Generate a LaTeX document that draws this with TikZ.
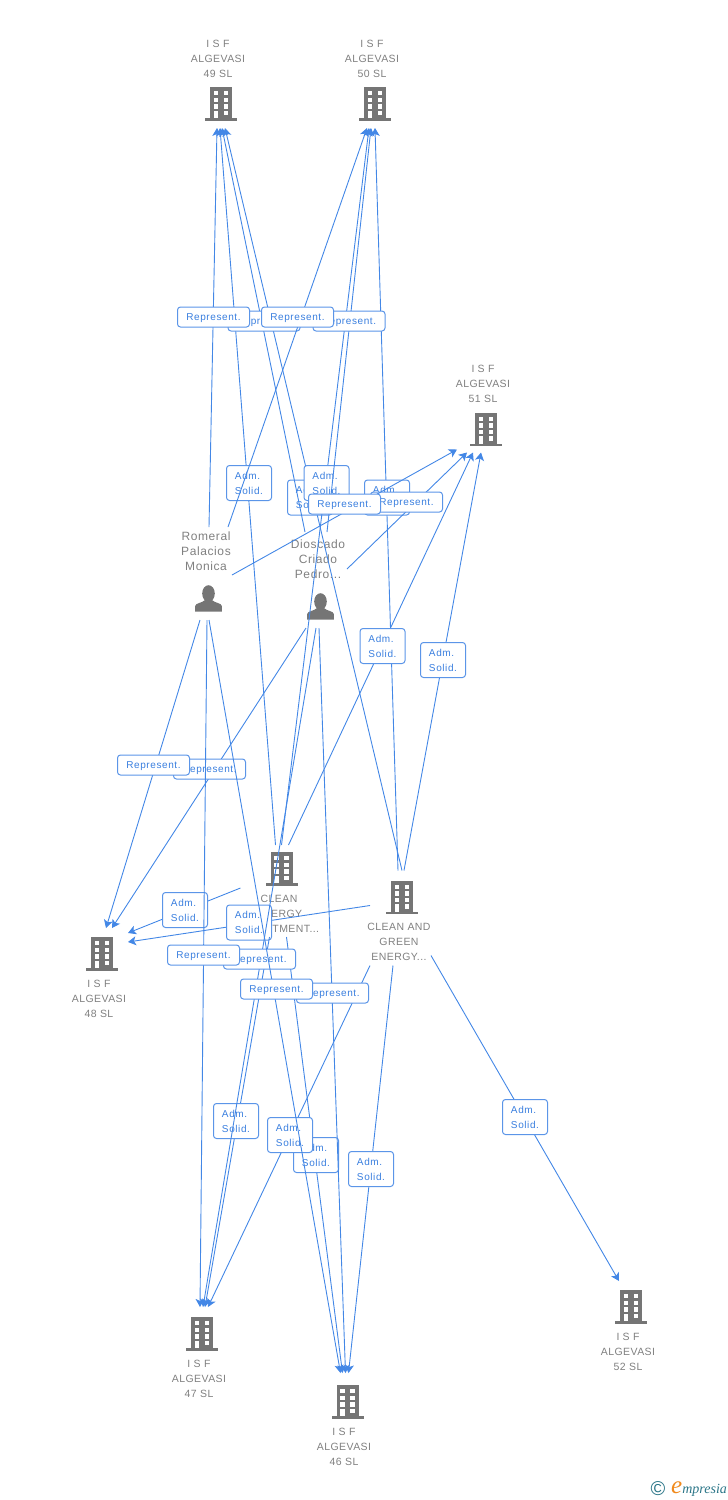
\documentclass[tikz,border=0pt]{standalone}
\usepackage{fontspec}
\usepackage{tikz}
\usetikzlibrary{calc, arrows.meta}
\setmainfont{Liberation Sans}
\newfontfamily\companyfont[LetterSpace=4]{Liberation Sans}
\newfontfamily\personfont[LetterSpace=5]{Liberation Sans}
\newfontfamily\boxfont[LetterSpace=6]{Liberation Sans}
\newfontfamily\logofont{Liberation Serif}
\definecolor{linkblue}{HTML}{4387E6}
\definecolor{boxblue}{HTML}{5B95E8}
\definecolor{boxtext}{HTML}{3A7FDF}
\definecolor{icongray}{HTML}{757575}
\definecolor{textgray}{HTML}{808080}
\definecolor{logoteal}{HTML}{2A7587}
\definecolor{logoorange}{HTML}{F08A1D}
\tikzset{
  icon/.style={inner sep=0pt, minimum size=0pt},
  company/.style={align=center, text=textgray, inner sep=0pt, font=\companyfont\fontsize{10.5}{15}\selectfont},
  person/.style={align=center, text=textgray, inner sep=0pt, font=\personfont\fontsize{12}{15}\selectfont},
  link/.style={draw=linkblue, line width=0.9pt, -{Stealth[length=8pt, width=9pt, inset=2pt]}},
  repbox/.style={draw=boxblue, line width=1pt, fill=white, rounded corners=3pt, text=boxtext, inner sep=0pt,
    text height=7.2pt, text depth=0pt, minimum width=72pt, minimum height=20pt, font=\boxfont\fontsize{10}{15}\selectfont},
  admbox/.style={draw=boxblue, line width=1pt, fill=white, rounded corners=3pt, text=boxtext, inner sep=0pt, align=left,
    minimum width=45pt, minimum height=35pt, font=\boxfont\fontsize{10}{15}\selectfont},
  building/.pic={
    \fill [icongray] (-11, -16.7) rectangle (11, 14.3);
    \fill [icongray] (-16, 14.3) rectangle (16, 16.5);
    \fill [white] (-7.3, -13) rectangle (-2.7, -8.7);
    \fill [white] (2.7, -13) rectangle (7.3, -8.7);
    \fill [white] (-7.3, -6.4) rectangle (-2.7, -2);
    \fill [white] (2.7, -6.4) rectangle (7.3, -2);
    \fill [white] (-7.3, 0.3) rectangle (-2.7, 4.6);
    \fill [white] (2.7, 0.3) rectangle (7.3, 4.6);
    \fill [white] (-7.3, 6.6) rectangle (-2.7, 14.3);
    \fill [white] (2.7, 6.6) rectangle (7.3, 11);
  },
  personicon/.pic={
    \fill [icongray] (0, -4.5) ellipse (6.3 and 8.3);
    \fill [icongray] (-13.3, 13.7) -- (-13.3, 8) .. controls (-13.3, 5) and (-6, 5) .. (-3.5, 2) -- (3.5, 2)
      .. controls (6, 5) and (13.3, 5) .. (13.3, 8) -- (13.3, 13.7) -- cycle;
  }
}
\begin{document}
\begin{tikzpicture}[x=1pt, y=-1pt]
\useasboundingbox (0, 0) rectangle (728, 1500);

\node [icon] (isf49) at (221, 104) {};
\node [icon] (isf50) at (375, 104) {};
\node [icon] (isf51) at (486, 429.5) {};
\node [icon] (isf48) at (102, 954) {};
\node [icon] (isf47) at (202, 1334) {};
\node [icon] (isf46) at (347.5, 1402) {};
\node [icon] (isf52) at (631, 1307) {};
\node [icon] (cleaninv) at (281.5, 869) {};
\node [icon] (cleangreen) at (402, 897.5) {};
\node [icon] (romeral) at (208.5, 598) {};
\node [icon] (dioscado) at (320.5, 606) {};

\pic at (isf49) {building};
\pic at (isf50) {building};
\pic at (isf51) {building};
\pic at (isf48) {building};
\pic at (isf47) {building};
\pic at (isf46) {building};
\pic at (isf52) {building};
\pic at (cleaninv) {building};
\pic at (cleangreen) {building};
\pic at (romeral) {personicon};
\pic at (dioscado) {personicon};

\node [company] (isf49text) at (218, 59) {I S F\\ALGEVASI\\49 SL};
\node [company] (isf50text) at (372, 59) {I S F\\ALGEVASI\\50 SL};
\node [company] (isf51text) at (483, 384) {I S F\\ALGEVASI\\51 SL};
\node [company] (isf48text) at (99, 999) {I S F\\ALGEVASI\\48 SL};
\node [company] (isf47text) at (199, 1379) {I S F\\ALGEVASI\\47 SL};
\node [company] (isf46text) at (344, 1447) {I S F\\ALGEVASI\\46 SL};
\node [company] (isf52text) at (628, 1352) {I S F\\ALGEVASI\\52 SL};
\node [company] (cleaninvtext) at (279, 914) {CLEAN\\ENERGY\\INVESTMENT...};
\node [company] (cleangreentext) at (399, 942) {CLEAN AND\\GREEN\\ENERGY...};
\node [person] (romeraltext) at (206, 551) {Romeral\\Palacios\\Monica};
\node [person] (dioscadotext) at (318, 559) {Dioscado\\Criado\\Pedro...};

\draw [link] ($(cleangreen)+(0, -27)$) -- ($(isf49)+(4, 24)$);
\node [admbox] (admG49) at (310, 497.5) {Adm.\\Solid.};
\draw [link] ($(cleangreen)+(-4, -27)$) -- ($(isf50)+(0, 24)$);
\node [admbox] (admG50) at (387, 497.5) {Adm.\\Solid.};
\draw [link] ($(cleangreen)+(2, -27)$) -- ($(isf51)+(-5, 23)$);
\node [admbox] (admG51) at (443, 660) {Adm.\\Solid.};
\draw [link] ($(cleangreen)+(-32, 8)$) -- ($(isf48)+(26, -12)$);
\node [admbox] (admG48) at (249, 922.5) {Adm.\\Solid.};
\draw [link] ($(cleaninv)+(5, 68)$) -- ($(isf46)+(-5, -29)$);
\node [admbox] (admI46) at (316, 1155) {Adm.\\Solid.};
\draw [link] ($(cleangreen)+(-32, 68)$) -- ($(isf47)+(6, -27)$);
\node [admbox] (admG47) at (290, 1135) {Adm.\\Solid.};
\draw [link] ($(cleangreen)+(-9, 68)$) -- ($(isf46)+(1, -29)$);
\node [admbox] (admG46) at (371, 1169) {Adm.\\Solid.};
\draw [link] ($(cleangreen)+(29, 58)$) -- ($(isf52)+(-12, -26)$);
\node [admbox] (admG52) at (525, 1117) {Adm.\\Solid.};

\draw [link] ($(cleaninv)+(-6, -24)$) -- ($(isf49)+(-1, 24)$);
\node [admbox] (admI49) at (249, 483) {Adm.\\Solid.};
\draw [link] ($(cleaninv)+(0, -24)$) -- ($(isf50)+(-6, 24)$);
\node [admbox] (admI50) at (326.5, 483) {Adm.\\Solid.};
\draw [link] ($(cleaninv)+(7, -24)$) -- ($(isf51)+(-13, 23)$);
\node [admbox] (admI51) at (382.5, 646) {Adm.\\Solid.};
\draw [link] ($(cleaninv)+(-41, 19)$) -- ($(isf48)+(26, -21)$);
\node [admbox] (admI48) at (185, 910) {Adm.\\Solid.};
\draw [link] ($(cleaninv)+(-12, 68)$) -- ($(isf47)+(3, -27)$);
\node [admbox] (admI47) at (236, 1121) {Adm.\\Solid.};

\draw [link] ($(dioscado)+(-15.5, -74)$) -- ($(isf49)+(1, 24)$);
\node [repbox] (repD49) at (264, 321) {Represent.};
\draw [link] ($(dioscado)+(6.5, -74)$) -- ($(isf50)+(-4, 24)$);
\node [repbox] (repD50) at (349, 321) {Represent.};
\draw [link] ($(dioscado)+(26.5, -37)$) -- ($(isf51)+(-19, 23)$);
\node [repbox] (repD51) at (406.5, 502) {Represent.};
\draw [link] ($(dioscado)+(-14.5, 22)$) -- ($(isf48)+(10, -26)$);
\node [repbox] (repD48) at (209.5, 769) {Represent.};
\draw [link] ($(dioscado)+(-4.5, 22)$) -- ($(isf47)+(1, -27)$);
\node [repbox] (repD47) at (259.5, 959) {Represent.};
\draw [link] ($(dioscado)+(-1.5, 22)$) -- ($(isf46)+(-2, -29)$);
\node [repbox] (repD46) at (332.5, 993) {Represent.};

\draw [link] ($(romeral)+(0.5, -71)$) -- ($(isf49)+(-4, 24)$);
\node [repbox] (repR49) at (213.5, 317) {Represent.};
\draw [link] ($(romeral)+(19.5, -71)$) -- ($(isf50)+(-8, 24)$);
\node [repbox] (repR50) at (297.5, 317) {Represent.};
\draw [link] ($(romeral)+(23.5, -23)$) -- ($(isf51)+(-29, 20)$);
\node [repbox] (repR51) at (344.5, 504) {Represent.};
\draw [link] ($(romeral)+(-8.5, 22)$) -- ($(isf48)+(4, -26)$);
\node [repbox] (repR48) at (153.5, 765) {Represent.};
\draw [link] ($(romeral)+(-1.5, 22)$) -- ($(isf47)+(-2, -27)$);
\node [repbox] (repR47) at (203.5, 955) {Represent.};
\draw [link] ($(romeral)+(0.5, 22)$) -- ($(isf46)+(-7, -29)$);
\node [repbox] (repR46) at (276.5, 989) {Represent.};

\node [text=logoteal, inner sep=0pt, font=\fontsize{20}{20}\selectfont] (logomark) at (658, 1489) {\textcopyright};
\node [text=logoteal, inner sep=0pt, anchor=base west, font=\logofont\itshape\fontsize{14}{14}\selectfont] (logoname) at (671, 1493)
  {{\color{logoorange}\fontsize{25}{25}\selectfont e}mpresia};
\end{tikzpicture}
\end{document}
